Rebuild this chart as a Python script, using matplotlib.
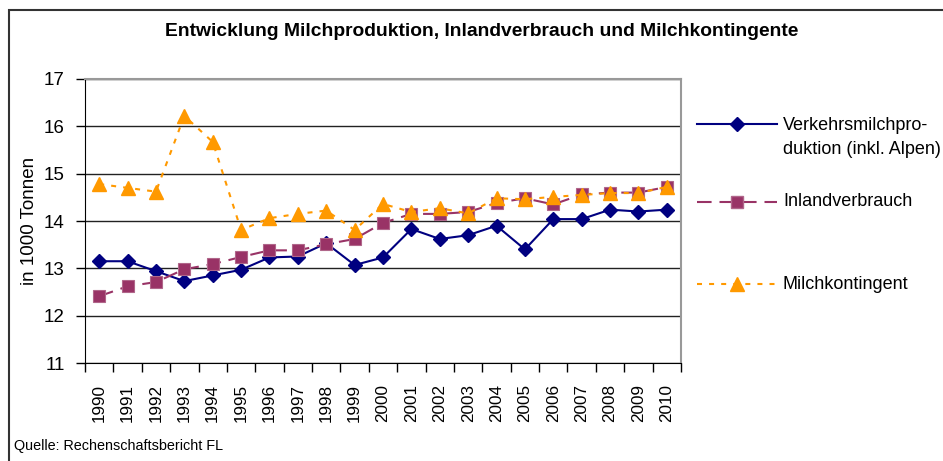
import matplotlib

matplotlib.use("Agg")
import matplotlib.pyplot as plt
from matplotlib.lines import Line2D
from matplotlib.patches import Rectangle

plt.rcParams["font.family"] = ["Liberation Sans", "DejaVu Sans"]

years = [str(y) for y in range(1990, 2011)]
produktion = [13.15, 13.15, 12.94, 12.73, 12.85, 12.97, 13.23, 13.25, 13.53, 13.07, 13.23,
              13.83, 13.62, 13.70, 13.90, 13.40, 14.04, 14.04, 14.24, 14.20, 14.24]
inlandverbrauch = [12.41, 12.62, 12.71, 12.98, 13.09, 13.24, 13.38, 13.38, 13.51, 13.62, 13.96,
                   14.15, 14.15, 14.19, 14.38, 14.48, 14.35, 14.56, 14.60, 14.60, 14.72]
kontingent = [14.78, 14.70, 14.62, 16.22, 15.67, 13.81, 14.06, 14.15, 14.22, 13.81, 14.36,
              14.19, 14.27, 14.16, 14.48, 14.46, 14.51, 14.55, 14.59, 14.59, 14.72]

series_labels = ["Verkehrsmilchpro-\nduktion (inkl. Alpen)", "Inlandverbrauch", "Milchkontingent"]
title = "Entwicklung Milchproduktion, Inlandverbrauch und Milchkontingente"
source = "Quelle: Rechenschaftsbericht FL"

W, H = 943, 461
fig = plt.figure(figsize=(W / 100, H / 100), dpi=100)
ax = fig.add_axes([85 / W, 1 - 363 / H, (681 - 85) / W, (363 - 79) / H])

styles = [
    dict(color="#000080", linestyle="-", marker="D", markersize=6.8, markerfacecolor="#000080",
         markeredgecolor="#000080"),
    dict(color="#993366", linestyle=(0, (7, 3.8)), marker="s", markersize=8.5,
         markerfacecolor="#993366", markeredgecolor="#b0668a", markeredgewidth=0.8),
    dict(color="#FF9900", linestyle=(0, (2.4, 3.4)), marker="^", markersize=10.5,
         markerfacecolor="#FF9900", markeredgecolor="#FF9900"),
]

x = list(range(len(years)))
for values, style in zip([produktion, inlandverbrauch, kontingent], styles):
    ax.plot(x, values, linewidth=1.5, zorder=3, clip_on=False, **style)

ax.set_xlim(-0.5, len(years) - 0.5)
ax.set_ylim(11, 17)
ax.set_yticks(range(11, 18))
ax.tick_params(axis="y", direction="out", length=6.5, width=1, pad=8, labelsize=13.5)
ax.set_xticks(x)
ax.set_xticklabels(years, rotation=90, fontsize=12.3)
ax.set_xticks([i - 0.5 for i in range(len(years) + 1)], minor=True)
ax.tick_params(axis="x", which="major", length=0, pad=15)
ax.tick_params(axis="x", which="minor", direction="out", length=6.5, width=1)
ax.grid(axis="y", color="#222222", linewidth=1)
ax.set_axisbelow(True)
for side in ("top", "right"):
    ax.spines[side].set_color("#999999")
    ax.spines[side].set_linewidth(1.5)
ax.spines["left"].set_color("black")
ax.spines["bottom"].set_color("black")
ax.set_ylabel("in 1000 Tonnen", fontsize=13.5)
ax.yaxis.set_label_coords((38 - 85) / (681 - 85), 0.5)

fig.text(482 / W, 1 - 31 / H, title, ha="center", va="center", fontsize=13.9, fontweight="bold")
fig.text(14 / W, 1 - 446 / H, source, ha="left", va="center", fontsize=10.4)

# legend drawn by hand (handle row positions differ per entry)
legend_rows = [124, 202, 284]
for row, label, style in zip(legend_rows, series_labels, styles):
    yf = 1 - row / H
    fig.add_artist(Line2D([697 / W, 777 / W], [yf, yf], transform=fig.transFigure,
                          color=style["color"], linestyle=style["linestyle"], linewidth=1.5))
    fig.add_artist(Line2D([737 / W], [yf], transform=fig.transFigure, linestyle="none",
                          marker=style["marker"], markersize=style["markersize"],
                          markerfacecolor=style["markerfacecolor"],
                          markeredgecolor=style["markeredgecolor"]))
    multi = "\n" in label
    fig.text(783 / W, yf + 7.5 / H if multi else yf, label, ha="left", va="top" if multi else "center",
             fontsize=13.0, linespacing=1.6)

fig.add_artist(Rectangle((9 / W, -0.1), 2, 1.1 - 10 / H, transform=fig.transFigure,
                         fill=False, edgecolor="#333333", linewidth=1.5))

fig.savefig("out.png", dpi=100)
